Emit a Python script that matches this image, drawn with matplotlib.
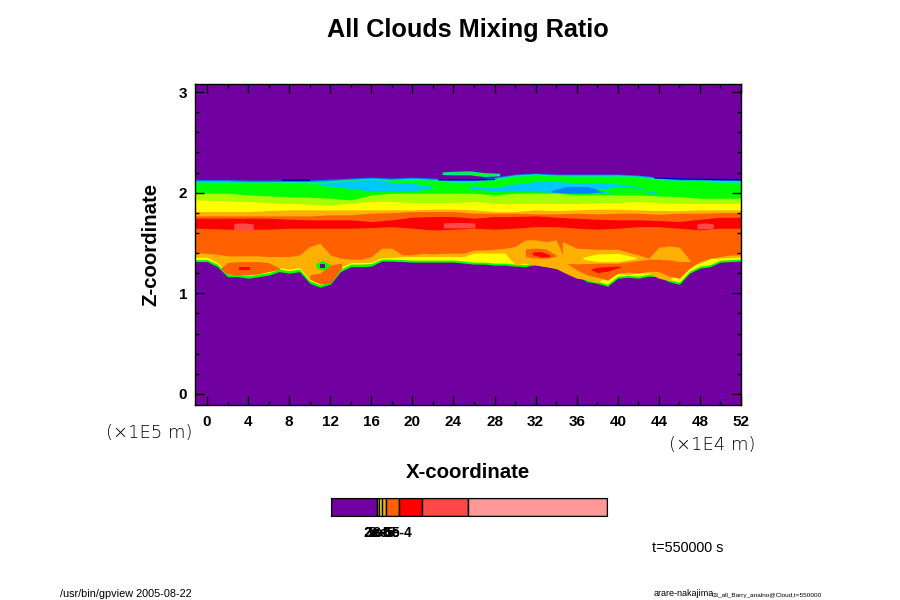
import matplotlib
matplotlib.use('Agg')
import matplotlib.pyplot as plt

plt.rcParams['font.family'] = ['Liberation Sans', 'DejaVu Sans']

# colours of the contour levels
purple = '#7000a0'
dkblue = '#0000c8'
blue = '#0080ff'
cyan = '#00c8ff'
teal = '#00e890'
green = '#00ff00'
ygreen = '#a8ff00'
yellow = '#ffff00'
amber = '#ffb000'
orange = '#ff6000'
red = '#ff0000'
lightred = '#ff4848'
pink = '#ff9898'

# upper cloud layers, top of each level (z in 1E5 m)
x_up = [-1.2, 2, 4, 6, 8, 10, 12, 14, 16, 18, 20, 22, 24, 26, 28, 30, 32, 34, 36, 38, 40, 42, 44, 46, 48, 50, 52]
blue_top = [2.13, 2.13, 2.125, 2.125, 2.125, 2.125, 2.135, 2.145, 2.155, 2.145, 2.155, 2.145, 2.135, 2.135, 2.155, 2.185, 2.195, 2.185, 2.185, 2.185, 2.185, 2.175, 2.155, 2.14, 2.14, 2.135, 2.135]
teal_top = [2.117, 2.117, 2.111, 2.111, 2.111, 2.111, 2.121, 2.134, 2.144, 2.134, 2.144, 2.134, 2.121, 2.121, 2.144, 2.177, 2.187, 2.177, 2.177, 2.177, 2.177, 2.167, 2.144, 2.127, 2.127, 2.121, 2.121]
green_top = [2.101, 2.101, 2.094, 2.094, 2.094, 2.087, 2.077, 2.077, 2.087, 2.121, 2.127, 2.121, 2.101, 2.101, 2.127, 2.16, 2.17, 2.167, 2.16, 2.16, 2.16, 2.154, 2.127, 2.111, 2.111, 2.101, 2.101]
ygreen_top = [1.995, 1.995, 1.978, 1.968, 1.961, 1.955, 1.945, 1.928, 1.978, 1.995, 1.995, 1.995, 1.995, 1.995, 1.978, 1.995, 1.995, 1.995, 1.978, 1.978, 1.978, 1.978, 1.968, 1.961, 1.945, 1.945, 1.945]
yellow_top = [1.928, 1.922, 1.912, 1.902, 1.895, 1.885, 1.879, 1.895, 1.912, 1.912, 1.902, 1.902, 1.902, 1.912, 1.895, 1.895, 1.895, 1.895, 1.889, 1.902, 1.902, 1.912, 1.902, 1.895, 1.895, 1.895, 1.895]
amber_top = [1.812, 1.812, 1.812, 1.822, 1.829, 1.829, 1.829, 1.829, 1.829, 1.829, 1.829, 1.836, 1.836, 1.829, 1.812, 1.812, 1.829, 1.822, 1.829, 1.836, 1.836, 1.829, 1.822, 1.822, 1.829, 1.829, 1.829]
orange_top = [1.769, 1.769, 1.769, 1.769, 1.769, 1.769, 1.779, 1.779, 1.796, 1.802, 1.812, 1.812, 1.812, 1.796, 1.796, 1.796, 1.789, 1.789, 1.796, 1.789, 1.796, 1.796, 1.786, 1.796, 1.796, 1.802, 1.802]
red_top = [1.746, 1.746, 1.746, 1.746, 1.736, 1.73, 1.73, 1.73, 1.713, 1.73, 1.756, 1.763, 1.763, 1.746, 1.763, 1.763, 1.769, 1.756, 1.746, 1.736, 1.73, 1.73, 1.723, 1.713, 1.736, 1.756, 1.756]
red_bottom = [1.647, 1.637, 1.637, 1.637, 1.647, 1.647, 1.647, 1.647, 1.653, 1.663, 1.647, 1.63, 1.637, 1.647, 1.637, 1.647, 1.663, 1.663, 1.647, 1.637, 1.647, 1.663, 1.663, 1.647, 1.63, 1.647, 1.647]

# lower cloud edge and the levels just above it
x_low = [-1.2] + list(range(0, 53))
edge_low = [1.315, 1.315, 1.265, 1.165, 1.165, 1.15, 1.165, 1.18, 1.215, 1.20, 1.215, 1.10, 1.06, 1.09, 1.215, 1.265, 1.265, 1.27, 1.32, 1.32, 1.315, 1.31, 1.31, 1.31, 1.31, 1.31, 1.30, 1.29, 1.29, 1.28, 1.28, 1.27, 1.265, 1.285, 1.265, 1.25, 1.23, 1.18, 1.115, 1.10, 1.07, 1.15, 1.16, 1.15, 1.17, 1.165, 1.115, 1.09, 1.20, 1.25, 1.265, 1.31, 1.315, 1.32]
yellow_low = [1.335, 1.335, 1.29, 1.19, 1.19, 1.175, 1.19, 1.205, 1.24, 1.225, 1.24, 1.125, 1.085, 1.115, 1.24, 1.29, 1.29, 1.295, 1.34, 1.34, 1.335, 1.33, 1.33, 1.33, 1.33, 1.33, 1.32, 1.31, 1.31, 1.30, 1.30, 1.29, 1.285, 1.305, 1.285, 1.27, 1.25, 1.20, 1.135, 1.12, 1.09, 1.17, 1.18, 1.17, 1.19, 1.185, 1.135, 1.11, 1.22, 1.27, 1.285, 1.33, 1.335, 1.34]
amber_low = [1.36, 1.36, 1.305, 1.205, 1.205, 1.19, 1.205, 1.22, 1.255, 1.24, 1.255, 1.14, 1.10, 1.13, 1.255, 1.305, 1.305, 1.31, 1.355, 1.355, 1.365, 1.365, 1.365, 1.365, 1.365, 1.365, 1.365, 1.40, 1.40, 1.40, 1.40, 1.285, 1.30, 1.28, 1.265, 1.245, 1.195, 1.15, 1.135, 1.105, 1.185, 1.195, 1.185, 1.205, 1.20, 1.15, 1.125, 1.235, 1.285, 1.30, 1.345, 1.35, 1.355, 1.36]
orange_low = [1.405, 1.398, 1.388, 1.372, 1.372, 1.372, 1.372, 1.365, 1.365, 1.365, 1.382, 1.465, 1.498, 1.382, 1.349, 1.339, 1.339, 1.365, 1.448, 1.448, 1.382, 1.382, 1.398, 1.392, 1.398, 1.398, 1.398, 1.431, 1.431, 1.438, 1.448, 1.465, 1.531, 1.531, 1.514, 1.531, 1.30, 1.233, 1.183, 1.16, 1.13, 1.20, 1.21, 1.20, 1.22, 1.215, 1.17, 1.15, 1.249, 1.315, 1.349, 1.365, 1.382, 1.382]

# patches drawn over the layers: x, low, high
patch_strip = ([22.9, 24, 25.6, 27, 28.5], [2.18, 2.177, 2.177, 2.16, 2.167], [2.207, 2.213, 2.217, 2.20, 2.193])
patch_strip_in = ([23.5, 25, 26.5, 27.8], [2.19, 2.19, 2.18, 2.175], [2.20, 2.205, 2.195, 2.185])
patch_dk1 = ([7.3, 10], [2.12, 2.12], [2.137, 2.137])
patch_dk2 = ([22.5, 26, 28], [2.125, 2.125, 2.13], [2.14, 2.14, 2.145])
patch_dk3 = ([43.5, 46, 52], [2.145, 2.135, 2.125], [2.16, 2.148, 2.14])
patch_cyan1 = ([11, 13, 15, 16, 18, 20, 22], [2.074, 2.054, 2.028, 2.015, 2.015, 2.015, 2.048], [2.087, 2.107, 2.12, 2.134, 2.10, 2.094, 2.061])
patch_cyan2 = ([25.6, 28, 30, 32, 34, 36, 38, 40, 42, 44], [2.034, 2.021, 2.011, 2.011, 2.001, 1.995, 1.995, 1.995, 1.995, 1.988], [2.068, 2.054, 2.087, 2.11, 2.11, 2.10, 2.10, 2.087, 2.061, 1.995])
patch_blue = ([33.5, 35, 37, 38.5], [2.008, 1.995, 1.995, 2.008], [2.021, 2.061, 2.061, 2.021])
patch_green = ([38, 40, 42, 43.5], [2.021, 1.995, 1.995, 2.015], [2.028, 2.061, 2.044, 2.021])
patch_lobe1 = ([1.4, 2, 3, 4, 5, 6, 7.1], [1.233, 1.193, 1.183, 1.183, 1.193, 1.216, 1.239], [1.259, 1.305, 1.315, 1.315, 1.315, 1.305, 1.249])
patch_lobe1_red = ([3.1, 4.2], [1.228, 1.228], [1.266, 1.266])
patch_lobe2 = ([10, 11, 12, 13.1], [1.14, 1.093, 1.10, 1.25], [1.183, 1.20, 1.282, 1.30])
patch_ring = ([10.6, 11.2, 11.9], [1.26, 1.23, 1.26], [1.29, 1.33, 1.29])
patch_hole = ([11.05, 11.5], [1.255, 1.255], [1.295, 1.295])
patch_amber = ([34.6, 36, 38, 40, 42, 43, 44, 45, 46, 47], [1.299, 1.292, 1.299, 1.299, 1.325, 1.339, 1.339, 1.332, 1.315, 1.315], [1.514, 1.448, 1.438, 1.438, 1.382, 1.349, 1.458, 1.471, 1.458, 1.332])
patch_orange3 = ([31, 32, 33, 34], [1.365, 1.35, 1.35, 1.365], [1.44, 1.45, 1.44, 1.38])
patch_red3 = ([31.7, 32.5, 33.4], [1.385, 1.36, 1.365], [1.41, 1.415, 1.38])
patch_yellow = ([36.6, 38, 40, 41.8], [1.339, 1.315, 1.315, 1.345], [1.358, 1.392, 1.398, 1.358])
patch_red4 = ([37.3, 38, 39, 40.2], [1.239, 1.206, 1.219, 1.259], [1.239, 1.259, 1.266, 1.272])
patch_pink1 = ([2.6, 3.5, 4.5], [1.63, 1.63, 1.63], [1.696, 1.70, 1.69])
patch_pink2 = ([23, 24.5, 26.1], [1.65, 1.65, 1.65], [1.70, 1.705, 1.70])
patch_pink3 = ([47.7, 48.5, 49.3], [1.64, 1.64, 1.64], [1.69, 1.70, 1.69])

x_ticks = list(range(0, 53, 4))
x_minor = list(range(0, 53, 2))
z_ticks = [0, 1, 2, 3]
z_minor = [0.2 * i for i in range(16)]

# colour bar
cb_edges = [0, 0.167, 0.174, 0.183, 0.199, 0.246, 0.330, 0.496, 1.0]
cb_colors = [purple, ygreen, yellow, amber, orange, red, lightred, pink]
cb_ticks = [0.167, 0.174, 0.183, 0.199, 0.246]
cb_labels = ['2e-5', '3e-5', '5e-5', '8e-5', '5e-4']


def band(x, low, high, color):
    ax.fill_between(x, low, high, color=color, lw=0, antialiased=False)


fig = plt.figure(figsize=(9, 6), dpi=100)
ax = fig.add_axes([195 / 900, 195 / 600, 546 / 900, 321 / 600])
ax.set_facecolor(purple)

mid = 1.6
for low, color in [(edge_low, green), (yellow_low, yellow), (amber_low, amber), (orange_low, orange)]:
    band(x_low, low, mid + 0.01, color)
for top, color in [(blue_top, blue), (teal_top, teal), (green_top, green), (ygreen_top, ygreen),
                   (yellow_top, yellow), (amber_top, amber)]:
    band(x_up, mid, top, color)
# orange starts lower so no seam of the other levels stays under it
band(x_up, mid - 0.03, orange_top, orange)
band(x_up, red_bottom, red_top, red)

for patch, color in [(patch_dk1, dkblue), (patch_dk2, dkblue), (patch_dk3, dkblue),
                     (patch_strip, teal), (patch_strip_in, green),
                     (patch_cyan1, cyan), (patch_cyan2, cyan), (patch_blue, blue), (patch_green, green),
                     (patch_lobe1, orange), (patch_lobe1_red, red), (patch_lobe2, orange),
                     (patch_ring, green), (patch_hole, purple),
                     (patch_amber, amber), (patch_orange3, orange), (patch_red3, red),
                     (patch_yellow, yellow), (patch_red4, red),
                     (patch_pink1, lightred), (patch_pink2, lightred), (patch_pink3, lightred)]:
    band(patch[0], patch[1], patch[2], color)

ax.set_xlim(-1.17, 52)
ax.set_ylim(-0.11, 3.08)
ax.set_xticks(x_ticks)
ax.set_xticks(x_minor, minor=True)
ax.set_yticks(z_ticks)
ax.set_yticks(z_minor, minor=True)
ax.tick_params(which='major', direction='in', length=6.5, width=1, top=True, right=True)
ax.tick_params(axis='x', which='major', pad=7)
ax.tick_params(axis='y', which='major', pad=5.5)
ax.tick_params(which='minor', direction='in', length=3.2, width=1, top=True, right=True)
for lab in ax.get_xticklabels() + ax.get_yticklabels():
    lab.set_fontweight('bold')
    lab.set_fontsize(11)
for s in ax.spines.values():
    s.set_linewidth(1)

fig.text(468 / 900, 1 - 30 / 600, 'All Clouds Mixing Ratio', fontsize=18.2, fontweight='bold', ha='center', va='center')
fig.text(468 / 900, 1 - 472 / 600, 'X-coordinate', fontsize=14.7, fontweight='bold', ha='center', va='center')
fig.text(151 / 900, 1 - 244 / 600, 'Z-coordinate', fontsize=14.7, fontweight='bold', ha='center', va='center', rotation=90)
fig.text(149 / 900, 1 - 433 / 600, '(×1E5 m)', fontsize=13, ha='center', va='center', family='DejaVu Sans', fontweight='light')
fig.text(712 / 900, 1 - 445 / 600, '(×1E4 m)', fontsize=13, ha='center', va='center', family='DejaVu Sans', fontweight='light')
fig.text(688 / 900, 1 - 548 / 600, 't=550000 s', fontsize=10.4, ha='center', va='center')
fig.text(60 / 900, 1 - 594 / 600, '/usr/bin/gpview 2005-08-22', fontsize=7.8, ha='left', va='center')
fig.text(654 / 900, 1 - 594 / 600, 'arare-nakajima', fontsize=6.5, ha='left', va='center')
fig.text(712 / 900, 1 - 595 / 600, '03_all_Barry_analno@Cloud,t=550000', fontsize=4.6, ha='left', va='center')

cb = fig.add_axes([331 / 900, 84 / 600, 276 / 900, 18 / 600])
cb.barh(0, [b - a for a, b in zip(cb_edges[:-1], cb_edges[1:])], left=cb_edges[:-1], height=1,
        color=cb_colors, edgecolor='black', linewidth=1)
cb.set_xlim(0, 1)
cb.set_ylim(-0.5, 0.5)
cb.set_yticks([])
cb.set_xticks(cb_ticks)
cb.set_xticklabels(cb_labels, fontweight='bold', fontsize=10)
cb.tick_params(axis='x', length=0, pad=7)

fig.savefig('out.png', dpi=100)
